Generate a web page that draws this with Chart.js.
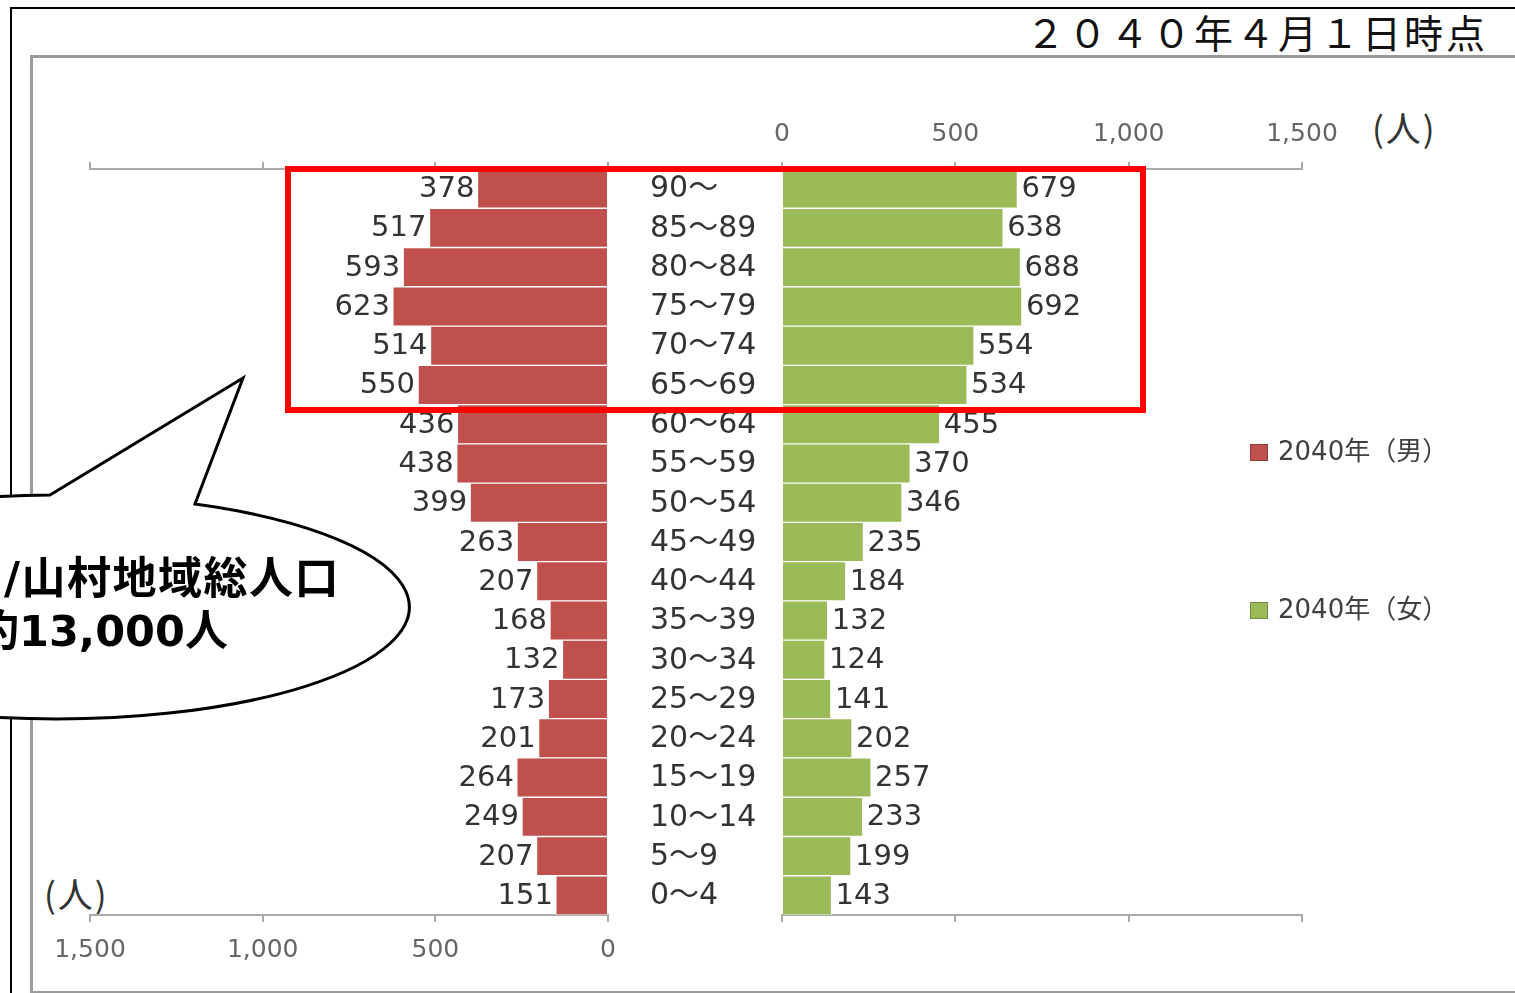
<!DOCTYPE html>
<html lang="ja">
<head>
<meta charset="utf-8">
<title>2040年 人口ピラミッド</title>
<script src="https://cdn.jsdelivr.net/npm/chart.js@4.4.1/dist/chart.umd.min.js"></script>
<style>
  html, body { margin: 0; padding: 0; background: #fff; }
  #page { position: relative; width: 1515px; height: 993px; overflow: hidden; background: #fff; }
  .layer { position: absolute; left: 0; top: 0; }
  #outerFrame { position: absolute; left: 10px; top: 7px; width: 1600px; height: 1100px; border: 2px solid #000; }
  #plotFrame { position: absolute; left: 30px; top: 55px; width: 1600px; height: 933px; border: 3px solid #9a9a9a; box-shadow: 1px 1px 2px #c8c8c8; }
  #stamp { position: absolute; right: 27px; top: 12px; font: 39px/1 "Noto Sans CJK JP"; letter-spacing: 3px; color: #111; }
  .unit { position: absolute; font: 35px/1 "Noto Sans CJK JP"; color: #333; letter-spacing: 2px; }
  #focus { position: absolute; left: 285px; top: 166px; width: 861px; height: 247px; box-sizing: border-box; border: 6px solid #ff0000; }
</style>
</head>
<body>
<div id="page">
  <div id="outerFrame"></div>
  <div id="plotFrame"></div>
  <div id="stamp">２０４０年４月１日時点</div>
  <div class="unit" style="left:1372px; top:109px;">(人)</div>
  <div class="unit" style="left:44px; top:875px;">(人)</div>

  <canvas id="maleChart" class="layer" width="1515" height="993"></canvas>
  <canvas id="femaleChart" class="layer" width="1515" height="993"></canvas>

  <div id="focus"></div>

  <svg class="layer" width="1515" height="993">
    <path d="M 50 495 L 243 378 L 195 504 A 353 112 0 1 1 50 495 Z" fill="#fff" stroke="#000" stroke-width="3"/>
    <text x="4" y="594" font-family="DejaVu Sans, Noto Sans CJK JP" font-weight="bold" font-size="44" letter-spacing="1.5">/山村地域総人口</text>
    <text x="-24" y="646" font-family="DejaVu Sans, Noto Sans CJK JP" font-weight="bold" font-size="43">約13,000人</text>
  </svg>
</div>

<script>
// 年齢階級（上から）
const ageGroups = ['90～', '85～89', '80～84', '75～79', '70～74', '65～69', '60～64', '55～59', '50～54',
  '45～49', '40～44', '35～39', '30～34', '25～29', '20～24', '15～19', '10～14', '5～9', '0～4'];
const male2040 = [378, 517, 593, 623, 514, 550, 436, 438, 399, 263, 207, 168, 132, 173, 201, 264, 249, 207, 151];
const female2040 = [679, 638, 688, 692, 554, 534, 455, 370, 346, 235, 184, 132, 124, 141, 202, 257, 233, 199, 143];
const axisTicks = [0, 500, 1000, 1500];
const seriesNames = ['2040年（男）', '2040年（女）'];
const seriesColors = ['#C0504D', '#9BBB59'];

const labelFont = '29px "DejaVu Sans", "Noto Sans CJK JP"';

// value labels next to the bar ends
const valueLabels = {
  id: 'valueLabels',
  afterDatasetsDraw(chart, args, opts) {
    const ctx = chart.ctx;
    const ds = chart.data.datasets[0];
    const meta = chart.getDatasetMeta(0);
    ctx.save();
    ctx.font = labelFont;
    ctx.fillStyle = '#333';
    ctx.textBaseline = 'middle';
    ctx.textAlign = opts.side === 'left' ? 'right' : 'left';
    meta.data.forEach((bar, i) => {
      const x = opts.side === 'left' ? bar.x - 3 : bar.x + 4;
      ctx.fillText(String(ds.data[i]), x, bar.y + 1);
    });
    ctx.restore();
  }
};

// age labels in the middle gap + legend
const middleLabels = {
  id: 'middleLabels',
  afterDraw(chart, args, opts) {
    const ctx = chart.ctx;
    const meta = chart.getDatasetMeta(0);
    ctx.save();
    ctx.font = '30px "DejaVu Sans", "Noto Sans CJK JP"';
    ctx.fillStyle = '#333';
    ctx.textBaseline = 'middle';
    ctx.textAlign = 'left';
    meta.data.forEach((bar, i) => {
      ctx.fillText(chart.data.labels[i], chart.chartArea.left - 132, bar.y + 1);
    });

    ctx.font = '26px "DejaVu Sans", "Noto Sans CJK JP"';
    opts.items.forEach(it => {
      ctx.fillStyle = it.color;
      ctx.fillRect(1250, it.y - 8, 18, 17);
      ctx.strokeStyle = 'rgba(0,0,0,0.25)';
      ctx.lineWidth = 1;
      ctx.strokeRect(1250.5, it.y - 7.5, 17, 16);
      ctx.fillStyle = '#404040';
      ctx.fillText(it.text, 1278, it.y + 1);
    });
    ctx.restore();
  }
};

function axisScale(position, reverse, labelled) {
  return {
    type: 'linear',
    position: position,
    reverse: reverse,
    min: 0,
    max: 1500,
    afterBuildTicks: s => { s.ticks = axisTicks.map(v => ({ value: v })); },
    afterFit: s => { s.height = labelled ? 50 : 10; },
    ticks: {
      display: labelled,
      color: '#666',
      padding: 13,
      font: { family: 'DejaVu Sans', size: 25 },
      callback: v => v.toLocaleString('en-US')
    },
    grid: { display: true, drawOnChartArea: false, drawTicks: true, tickLength: 7, color: '#aaa', lineWidth: 2 },
    border: { display: true, color: '#aaa', width: 2 }
  };
}

new Chart(document.getElementById('maleChart'), {
  type: 'bar',
  data: {
    labels: ageGroups,
    datasets: [{
      label: seriesNames[0],
      data: male2040,
      backgroundColor: seriesColors[0],
      borderColor: 'rgba(255,255,255,0.55)',
      borderWidth: 1,
      categoryPercentage: 1,
      barPercentage: 1
    }]
  },
  options: {
    indexAxis: 'y',
    responsive: false,
    animation: false,
    layout: { padding: { left: 90, right: 907, top: 159, bottom: 28 } },
    plugins: { legend: { display: false }, tooltip: { enabled: false }, valueLabels: { side: 'left' } },
    scales: {
      x: axisScale('bottom', true, true),
      x2: axisScale('top', true, false),
      y: { display: false }
    }
  },
  plugins: [valueLabels]
});

new Chart(document.getElementById('femaleChart'), {
  type: 'bar',
  data: {
    labels: ageGroups,
    datasets: [{
      label: seriesNames[1],
      data: female2040,
      backgroundColor: seriesColors[1],
      borderColor: 'rgba(255,255,255,0.55)',
      borderWidth: 1,
      categoryPercentage: 1,
      barPercentage: 1
    }]
  },
  options: {
    indexAxis: 'y',
    responsive: false,
    animation: false,
    layout: { padding: { left: 782, right: 213, top: 119, bottom: 68 } },
    plugins: {
      legend: { display: false },
      tooltip: { enabled: false },
      valueLabels: { side: 'right' },
      middleLabels: {
        items: [
          { text: seriesNames[0], color: seriesColors[0], y: 452 },
          { text: seriesNames[1], color: seriesColors[1], y: 610 }
        ]
      }
    },
    scales: {
      x: axisScale('top', false, true),
      x2: axisScale('bottom', false, false),
      y: { display: false }
    }
  },
  plugins: [valueLabels, middleLabels]
});
</script>
</body>
</html>
